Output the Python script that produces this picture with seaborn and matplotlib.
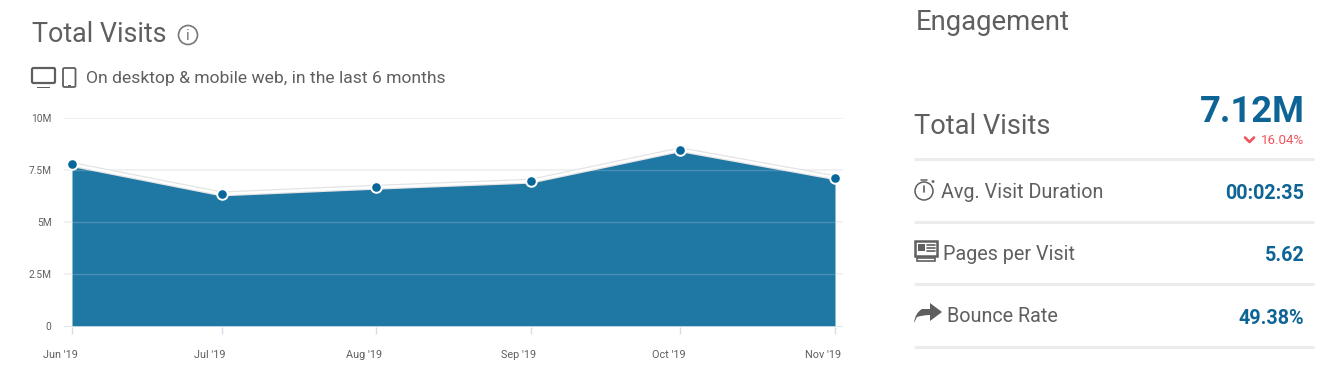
import pandas as pd
import seaborn as sns
import matplotlib.pyplot as plt
import matplotlib.dates as mdates
from matplotlib.patches import Circle, FancyBboxPatch, Rectangle, PathPatch
from matplotlib.path import Path
from matplotlib.transforms import ScaledTranslation

months = ["2019-06-01", "2019-07-01", "2019-08-01", "2019-09-01", "2019-10-01", "2019-11-01"]
month_labels = ["Jun '19", "Jul '19", "Aug '19", "Sep '19", "Oct '19", "Nov '19"]
visits = [7.77e6, 6.36e6, 6.68e6, 6.97e6, 8.48e6, 7.14e6]
y_ticks = [0, 2.5e6, 5e6, 7.5e6, 10e6]
y_labels = ["0", "2.5M", "5M", "7.5M", "10M"]

metric_names = ["Avg. Visit Duration", "Pages per Visit", "Bounce Rate"]
metric_values = ["00:02:35", "5.62", "49.38%"]

W, H = 1338, 372
GREY = "#5f5f5f"
FILL = "#1f77a4"
DOT = "#07679b"
VALUE = "#0f6496"
RULE = "#ececec"

sns.set_theme(style="white")
plt.rcParams["font.family"] = ["Roboto", "DejaVu Sans"]

df = pd.DataFrame({"month": pd.to_datetime(months), "visits": visits})

fig = plt.figure(figsize=(W / 100, H / 100), dpi=100)

# chart area, gridlines run 64-843 px, 10M at y=118, 0 at y=326.5
ax = fig.add_axes([64 / W, 1 - 326.5 / H, (843 - 64) / W, (326.5 - 118) / H])
days_per_px = (df["month"].iloc[-1] - df["month"].iloc[0]).days / (835 - 72)
x0 = mdates.date2num(df["month"].iloc[0])
ax.set_xlim(x0 - 8 * days_per_px, x0 + (843 - 72) * days_per_px)
ax.set_ylim(0, 10e6)

ax.fill_between(df["month"], df["visits"], 0, color=FILL, lw=0, zorder=2)
# soft shadow above the white outline
sns.lineplot(data=df, x="month", y="visits", ax=ax, color="#e4e4e4", lw=3.6, zorder=3, clip_on=False)
sns.lineplot(data=df, x="month", y="visits", ax=ax, color="white", lw=1.8, zorder=4, clip_on=False)
sns.scatterplot(data=df, x="month", y="visits", ax=ax, color=DOT, s=58, edgecolor="white", linewidth=1.4,
                zorder=5, clip_on=False)

ax.set_yticks(y_ticks)
ax.set_yticklabels(y_labels, fontsize=7.3, color=GREY)
ax.set_xticks(df["month"])
ax.set_xticklabels(month_labels, fontsize=7.8, color=GREY)
ax.set_xlabel("")
ax.set_ylabel("")
ax.grid(axis="y", color="#f0f0f0", lw=1.4, zorder=1)
ax.grid(axis="x", visible=False)
for v in y_ticks[1:-1]:
    ax.axhline(v, color="#ffffff", alpha=0.18, lw=1, zorder=3)
for s in ax.spines.values():
    s.set_visible(False)
ax.axhline(0, color="#dfe6ee", lw=1.2, zorder=3)
ax.tick_params(axis="y", length=0, pad=9)
ax.tick_params(axis="x", length=5, width=1, color="#d5dde6", pad=12, bottom=True)
shift = ScaledTranslation(-12 / 100, 0, fig.dpi_scale_trans)
for lab in ax.get_xticklabels():
    lab.set_transform(lab.get_transform() + shift)

# overlay in pixel coordinates for the header and the engagement panel
ov = fig.add_axes([0, 0, 1, 1], zorder=10)
ov.set_xlim(0, W)
ov.set_ylim(H, 0)
ov.axis("off")
ov.patch.set_alpha(0)

ov.text(32, 35, "Total Visits", fontsize=19.4, color=GREY, va="center", ha="left")
ov.add_patch(Circle((188, 35), 9.5, fc="none", ec="#777777", lw=1.2))
ov.text(188, 35.5, "i", fontsize=11, color="#777777", va="center", ha="center")

# device icons
ov.add_patch(FancyBboxPatch((32, 68), 23, 15, boxstyle="round,pad=0,rounding_size=1.5", fc="none", ec=GREY, lw=1.6))
ov.add_patch(Rectangle((37, 86.5), 13, 1.4, fc=GREY, ec="none"))
ov.add_patch(FancyBboxPatch((63, 68), 12.5, 19, boxstyle="round,pad=0,rounding_size=1.5", fc="none", ec=GREY, lw=1.3))
ov.add_patch(Rectangle((67.5, 85), 3, 1, fc=GREY, ec="none"))
ov.text(86, 78.5, "On desktop & mobile web, in the last 6 months", fontsize=12.6, color=GREY, va="center", ha="left")

# engagement panel
ov.text(916, 23, "Engagement", fontsize=19.85, color=GREY, va="center", ha="left")
ov.text(914, 126, "Total Visits", fontsize=19.6, color=GREY, va="center", ha="left")
ov.text(1304.5, 111.5, "7.12M", fontsize=26.2, color=VALUE, va="center", ha="right", fontweight="bold")
ov.text(1304.5, 140.5, "16.04%", fontsize=9.6, color="#f0545c", va="center", ha="right")
ov.plot([1245, 1249.5, 1254], [137.5, 142, 137.5], color="#f0545c", lw=1.9)

for y in [158.5, 221.5, 283.5, 346.5]:
    ov.plot([914, 1314], [y, y], color=RULE, lw=2.2, solid_capstyle="butt")

name_x = [941, 943, 947]
name_y = [193, 255, 317]
value_y = [193.5, 255.5, 318.5]
for name, val, nx, ny, vy in zip(metric_names, metric_values, name_x, name_y, value_y):
    ov.text(nx, ny, name, fontsize=14.2, color=GREY, va="center", ha="left")
    ov.text(1304.5, vy, val, fontsize=14.2, color=VALUE, va="center", ha="right", fontweight="bold")

# stopwatch
ov.add_patch(Circle((924, 191), 9, fc="none", ec=GREY, lw=1.1))
ov.plot([924, 924], [186, 192], color=GREY, lw=1.2)
ov.plot([921, 927], [179.5, 179.5], color=GREY, lw=1.1)
ov.add_patch(Circle((933, 181.5), 1.4, fc=GREY, ec="none"))

# newspaper
ov.add_patch(Rectangle((915, 241), 22, 15, fc="white", ec=GREY, lw=1.8))
ov.add_patch(Rectangle((918, 244), 7, 7, fc=GREY, ec="none"))
for yy in [244.5, 247.5, 250.5]:
    ov.plot([927, 935], [yy, yy], color=GREY, lw=1.2)
ov.add_patch(Rectangle((917, 258), 18, 3, fc="white", ec=GREY, lw=1.2))

# share arrow
arrow = Path([(914, 323), (915, 313), (922, 309), (930, 309), (930, 303), (942, 312), (930, 321), (930, 315),
              (923, 315), (917, 317), (914, 323)],
             [Path.MOVETO, Path.CURVE3, Path.CURVE3, Path.LINETO, Path.LINETO, Path.LINETO, Path.LINETO, Path.LINETO,
              Path.CURVE3, Path.CURVE3, Path.CLOSEPOLY])
ov.add_patch(PathPatch(arrow, fc=GREY, ec="none"))

fig.savefig("out.png", dpi=100, facecolor="white")
plt.close(fig)
